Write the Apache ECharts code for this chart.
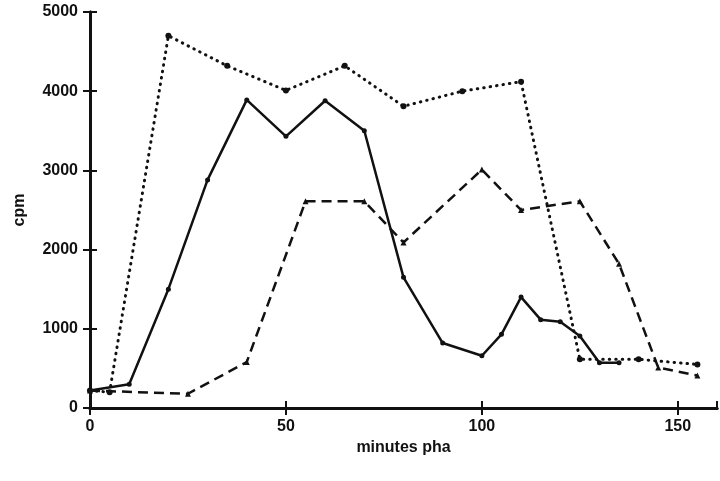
<!DOCTYPE html>
<html><head><meta charset="utf-8">
<script src="https://cdn.jsdelivr.net/npm/echarts@6/dist/echarts.min.js"></script>
<style>html,body{margin:0;background:#fff}#c{width:720px;height:481px}</style>
</head><body><div id="c"></div>
<script>
const solidX = [0, 10, 20, 30, 40, 50, 60, 70, 80, 90, 100, 105, 110, 115, 120, 125, 130, 135];
const solidY = [220, 300, 1500, 2880, 3890, 3430, 3880, 3500, 1650, 820, 660, 930, 1400, 1115, 1090, 910, 570, 570];
const dottedX = [0, 5, 20, 35, 50, 65, 80, 95, 110, 125, 140, 155];
const dottedY = [220, 200, 4700, 4320, 4010, 4320, 3810, 4000, 4120, 615, 615, 550];
const dashedX = [0, 25, 40, 55, 70, 80, 100, 110, 125, 135, 145, 155];
const dashedY = [220, 180, 580, 2610, 2610, 2090, 3010, 2500, 2610, 1820, 510, 410];
const pairs = (xs, ys) => xs.map((x, i) => [x, ys[i]]);
const font = 'Liberation Sans';
const label = {color: '#111', fontFamily: font, fontWeight: 'bold', fontSize: 16, showMaxLabel: false, formatter: v => String(v)};
const base = (extra) => Object.assign({
  type: 'value',
  axisLine: {show: true, lineStyle: {color: '#111', width: 3}},
  axisTick: {show: true, length: 7, lineStyle: {color: '#111', width: 2}},
  splitLine: {show: false},
  nameTextStyle: {color: '#111', fontFamily: font, fontWeight: 'bold', fontSize: 16}
}, extra);
const chart = echarts.init(document.getElementById('c'));
chart.setOption({
  animation: false,
  grid: {left: 90, right: 3, top: 12, bottom: 73},
  xAxis: [
    base({min: 0, max: 160, interval: 50, name: 'minutes pha', nameLocation: 'middle', nameGap: 30,
      axisLabel: Object.assign({}, label, {margin: 11})}),
    base({min: 0, max: 160, interval: 50, position: 'bottom', axisTick: {show: true, inside: true, length: 7, lineStyle: {color: '#111', width: 2}}, axisLabel: {show: false}})
  ],
  yAxis: [
    base({min: 0, max: 5000, interval: 1000, name: 'cpm', nameLocation: 'middle', nameGap: 62, nameRotate: 90,
      axisLabel: Object.assign({}, label, {showMaxLabel: true, margin: 12})}),
    base({min: 0, max: 5000, interval: 1000, position: 'left', axisTick: {show: true, inside: true, length: 7, lineStyle: {color: '#111', width: 2}}, axisLabel: {show: false}})
  ],
  series: [
    {type: 'line', data: pairs(solidX, solidY), symbol: 'circle', symbolSize: 5,
     lineStyle: {color: '#111', width: 2.5, type: 'solid'}, itemStyle: {color: '#111'}},
    {type: 'line', data: pairs(dottedX, dottedY), symbol: 'circle', symbolSize: 6,
     lineStyle: {color: '#111', width: 3, type: [0.5, 6], cap: 'round'}, itemStyle: {color: '#111'}},
    {type: 'line', data: pairs(dashedX, dashedY), symbol: 'triangle', symbolSize: 6,
     lineStyle: {color: '#111', width: 2.5, type: [10, 6]}, itemStyle: {color: '#111'}}
  ]
});
</script></body></html>
